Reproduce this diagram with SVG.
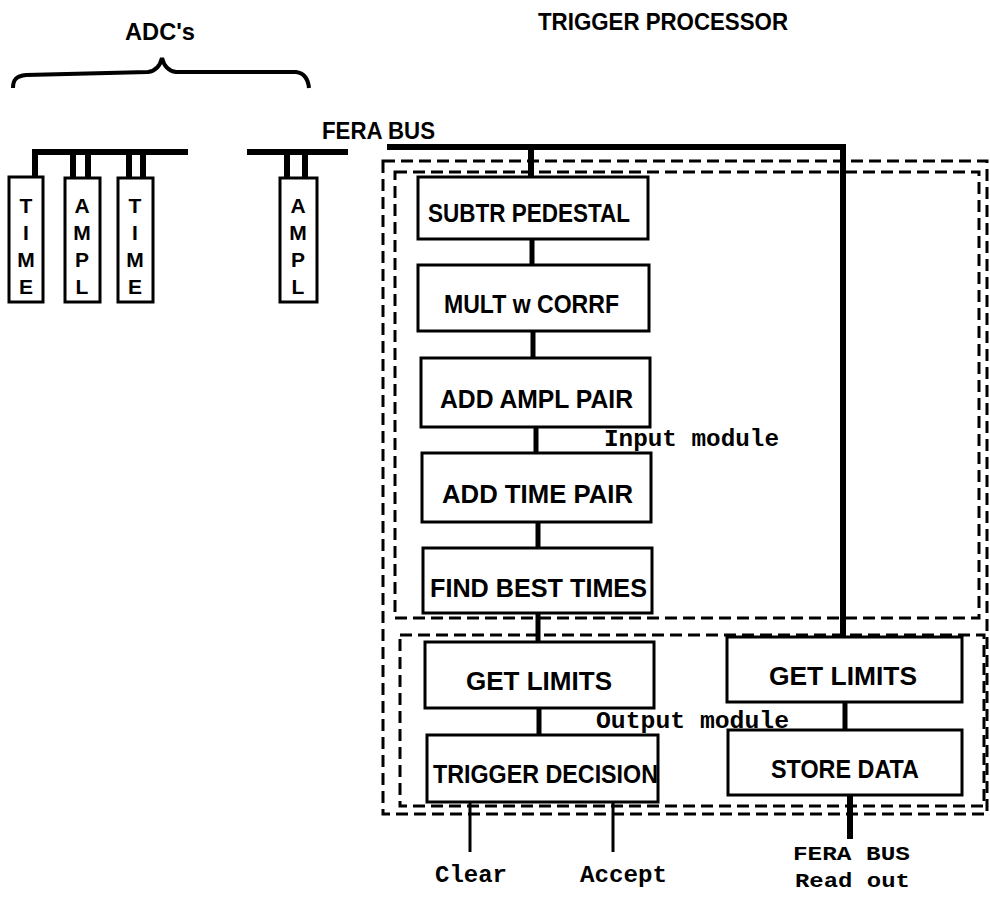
<svg xmlns="http://www.w3.org/2000/svg" width="990" height="897" viewBox="0 0 990 897">
<style>
.bg{fill:#fff}
.box{fill:#fff;stroke:#000;stroke-width:3}
.mod{fill:#fff;stroke:#000;stroke-width:3}
.dash{fill:none;stroke:#000;stroke-width:3;stroke-dasharray:12 6}
.bus{fill:none;stroke:#000;stroke-width:6;stroke-linecap:square}
.con{fill:none;stroke:#000;stroke-width:5}
.thin{fill:none;stroke:#000;stroke-width:3}
.lbl{font-family:"Liberation Sans",Arial,sans-serif;font-weight:bold;font-size:26px;fill:#000}
.hdr{font-family:"Liberation Sans",Arial,sans-serif;font-weight:bold;font-size:23px;fill:#000}
.vl{font-family:"Liberation Sans",Arial,sans-serif;font-weight:bold;font-size:21px;fill:#000;text-anchor:middle}
.mono{font-family:"Liberation Mono","Courier New",monospace;font-weight:bold;font-size:24px;fill:#000}
.mono2{font-family:"Liberation Mono","Courier New",monospace;font-weight:bold;font-size:21px;fill:#000}
</style>
<rect class="bg" x="0" y="0" width="990" height="897"/>

<g id="titles">
<text class="hdr" x="538" y="30" textLength="250" lengthAdjust="spacingAndGlyphs">TRIGGER PROCESSOR</text>
<text class="hdr" x="125" y="40" textLength="70" lengthAdjust="spacingAndGlyphs">ADC's</text>
<path d="M13,88 C13,80 16,76 26,75 L148,72 C156,71 160,66 162,58 C164,66 168,71 176,72 L296,72 C304,73 308,78 309,88" fill="none" stroke="#000" stroke-width="4"/>
<text class="hdr" x="322" y="139" textLength="113" lengthAdjust="spacingAndGlyphs">FERA BUS</text>
</g>

<g id="module-boundaries">
<rect class="dash" x="383" y="161" width="604" height="653"/>
<rect class="dash" x="395" y="172" width="584" height="446"/>
<rect class="dash" x="400" y="635" width="584" height="171"/>
</g>

<g id="connectors">
<path class="bus" d="M35,178 V152 H185 M73,152 V178 M88,152 V178 M129,152 V178 M143,152 V178"/>
<path class="bus" d="M250,152 H345 M287,152 V178 M305,152 V178"/>
<path class="bus" d="M390,147 H843 V637 M531,147 V177"/>
<line class="con" x1="532" y1="239" x2="532" y2="265"/>
<line class="con" x1="533" y1="331" x2="533" y2="358"/>
<line class="con" x1="536" y1="427" x2="536" y2="453"/>
<line class="con" x1="538" y1="522" x2="538" y2="548"/>
<line class="con" x1="538" y1="613" x2="538" y2="642"/>
<line class="con" x1="539" y1="708" x2="539" y2="735"/>
<line class="con" x1="845" y1="702" x2="845" y2="730"/>
<line class="bus" x1="850" y1="795" x2="850" y2="836"/>
<line class="thin" x1="470" y1="802" x2="470" y2="852"/>
<line class="thin" x1="613" y1="802" x2="613" y2="852"/>
</g>

<g id="adc-time1">
<rect class="mod" x="9" y="177" width="34" height="125"/>
<text class="vl" x="26" y="213">T</text><text class="vl" x="26" y="240">I</text><text class="vl" x="26" y="267">M</text><text class="vl" x="26" y="294">E</text>
</g>
<g id="adc-ampl1">
<rect class="mod" x="65" y="178" width="35" height="124"/>
<text class="vl" x="82" y="213">A</text><text class="vl" x="82" y="240">M</text><text class="vl" x="82" y="267">P</text><text class="vl" x="82" y="294">L</text>
</g>
<g id="adc-time2">
<rect class="mod" x="118" y="178" width="35" height="124"/>
<text class="vl" x="135" y="213">T</text><text class="vl" x="135" y="240">I</text><text class="vl" x="135" y="267">M</text><text class="vl" x="135" y="294">E</text>
</g>
<g id="adc-ampl2">
<rect class="mod" x="280" y="178" width="37" height="124"/>
<text class="vl" x="298" y="213">A</text><text class="vl" x="298" y="240">M</text><text class="vl" x="298" y="267">P</text><text class="vl" x="298" y="294">L</text>
</g>

<g id="subtr-pedestal">
<rect class="box" x="418" y="177" width="230" height="62"/>
<text class="lbl" x="428" y="222" textLength="202" lengthAdjust="spacingAndGlyphs">SUBTR PEDESTAL</text>
</g>
<g id="mult-corrf">
<rect class="box" x="418" y="265" width="231" height="66"/>
<text class="lbl" x="444" y="313" textLength="175" lengthAdjust="spacingAndGlyphs">MULT w CORRF</text>
</g>
<g id="add-ampl-pair">
<rect class="box" x="421" y="358" width="229" height="69"/>
<text class="lbl" x="440" y="408" textLength="193" lengthAdjust="spacingAndGlyphs">ADD AMPL PAIR</text>
</g>
<g id="input-module-label">
<text class="mono" x="604" y="446" textLength="175" lengthAdjust="spacingAndGlyphs">Input module</text>
</g>
<g id="add-time-pair">
<rect class="box" x="422" y="453" width="229" height="69"/>
<text class="lbl" x="442" y="503" textLength="191" lengthAdjust="spacingAndGlyphs">ADD TIME PAIR</text>
</g>
<g id="find-best-times">
<rect class="box" x="423" y="548" width="229" height="65"/>
<text class="lbl" x="430" y="597" textLength="217" lengthAdjust="spacingAndGlyphs">FIND BEST TIMES</text>
</g>
<g id="get-limits-left">
<rect class="box" x="425" y="642" width="229" height="66"/>
<text class="lbl" x="466" y="690" textLength="146" lengthAdjust="spacingAndGlyphs">GET LIMITS</text>
</g>
<g id="output-module-label">
<text class="mono" x="596" y="728" textLength="193" lengthAdjust="spacingAndGlyphs">Output module</text>
</g>
<g id="trigger-decision">
<rect class="box" x="427" y="735" width="231" height="67"/>
<text class="lbl" x="433" y="783" textLength="225" lengthAdjust="spacingAndGlyphs">TRIGGER DECISION</text>
</g>
<g id="get-limits-right">
<rect class="box" x="727" y="637" width="235" height="65"/>
<text class="lbl" x="769" y="685" textLength="148" lengthAdjust="spacingAndGlyphs">GET LIMITS</text>
</g>
<g id="store-data">
<rect class="box" x="728" y="730" width="234" height="65"/>
<text class="lbl" x="771" y="778" textLength="148" lengthAdjust="spacingAndGlyphs">STORE DATA</text>
</g>

<g id="outputs">
<text class="mono" x="435" y="882" textLength="72" lengthAdjust="spacingAndGlyphs">Clear</text>
<text class="mono" x="580" y="882" textLength="87" lengthAdjust="spacingAndGlyphs">Accept</text>
<text class="mono2" x="793" y="860" textLength="117" lengthAdjust="spacingAndGlyphs">FERA BUS</text>
<text class="mono2" x="795" y="887" textLength="115" lengthAdjust="spacingAndGlyphs">Read out</text>
</g>
</svg>
